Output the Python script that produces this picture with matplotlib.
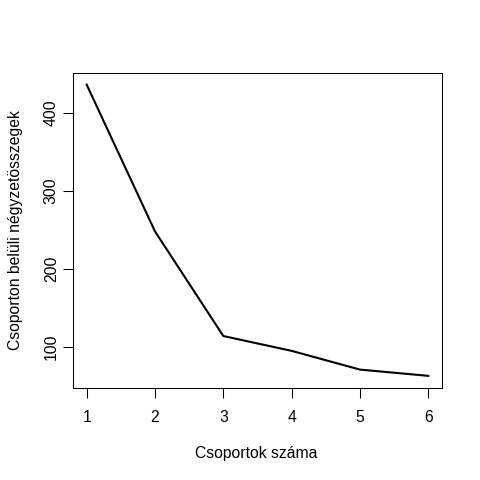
import matplotlib
matplotlib.use('Agg')
import matplotlib.pyplot as plt

# Data
n_groups = [1, 2, 3, 4, 5, 6]
within_ss = [436, 248, 114, 95, 71, 63]
x_ticks = [1, 2, 3, 4, 5, 6]
y_ticks = [100, 200, 300, 400]

plt.rcParams['font.family'] = ['Liberation Sans', 'DejaVu Sans']
FS = 11.3

fig = plt.figure(figsize=(4.8, 4.8), dpi=100)
ax = fig.add_axes([73 / 480, 1 - 387.5 / 480, 369 / 480, 314.5 / 480])

ax.plot(n_groups, within_ss, color='black', linewidth=1.5)

# R-style 4% padding on the ranges
xr = max(n_groups) - min(n_groups)
yr = max(within_ss) - min(within_ss)
ax.set_xlim(min(n_groups) - 0.04 * xr, max(n_groups) + 0.04 * xr)
ax.set_ylim(min(within_ss) - 0.04 * yr, max(within_ss) + 0.04 * yr)

ax.set_xticks(x_ticks)
ax.set_xticklabels([str(v) for v in x_ticks])
ax.set_yticks(y_ticks)
ax.set_yticklabels([str(v) for v in y_ticks], rotation=90, va='center')

ax.tick_params(axis='x', length=7.2, width=0.75, pad=9.0, labelsize=FS)
ax.tick_params(axis='y', length=7.2, width=0.75, pad=3.0, labelsize=FS)

for sp in ax.spines.values():
    sp.set_linewidth(0.75)

ax.set_xlabel('Csoportok száma', fontsize=FS, va='center')
ax.xaxis.set_label_coords(0.496, -0.211)
ax.set_ylabel('Csoporton belüli négyzetösszegek', fontsize=FS, va='center')
ax.yaxis.set_label_coords(-0.157, 0.5)

fig.savefig('out.png', dpi=100)
